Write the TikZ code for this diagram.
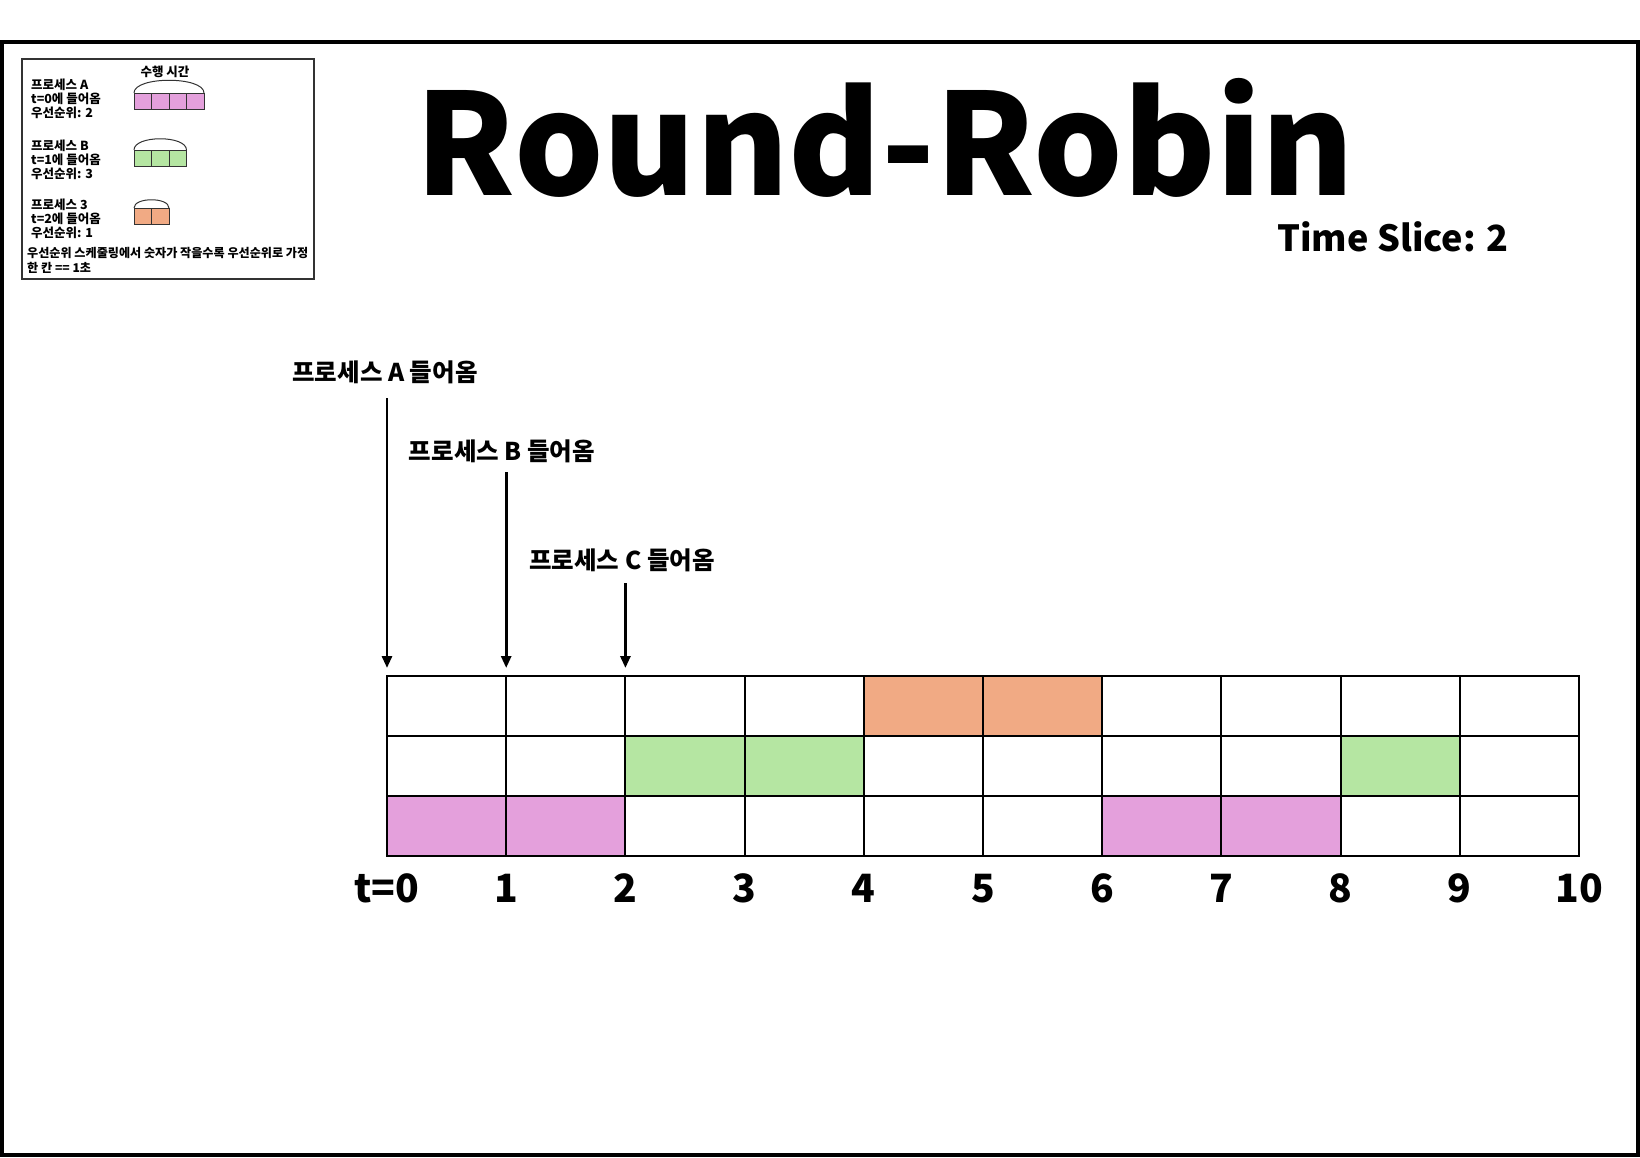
\documentclass[tikz,border=0pt]{standalone}
\usepackage{fontspec}
\setmainfont{Noto Sans CJK KR}
\usetikzlibrary{arrows.meta, positioning}

\definecolor{procA}{HTML}{E4A0DC}
\definecolor{procB}{HTML}{B5E6A2}
\definecolor{procC}{HTML}{F1AA84}

\begin{document}
\begin{tikzpicture}[
    x=1pt, y=-1pt, % one unit = one pixel of the sheet, y runs down
    font=\bfseries,
    frame/.style={draw, line width=4pt},
    legbox/.style={draw=black!80, line width=1.3pt},
    legtxt/.style={anchor=west, align=left, inner sep=0pt, font=\fontsize{12.5}{14}\selectfont\bfseries},
    note/.style={anchor=west, align=left, inner sep=0pt, font=\fontsize{12.1}{15}\selectfont\bfseries},
    legcell/.style={draw=black!80, line width=1pt},
    title/.style={anchor=base, inner sep=0pt, font=\fontsize{141}{141}\selectfont\bfseries},
    slice/.style={anchor=base, inner sep=0pt, font=\fontsize{36}{36}\selectfont\bfseries},
    arrive/.style={inner sep=0pt, font=\fontsize{24.5}{26}\selectfont\bfseries},
    tick/.style={anchor=base, inner sep=0pt, font=\fontsize{39}{40}\selectfont\bfseries},
    slot/.style={draw, line width=2pt},
    arr/.style={-{Triangle[length=12pt, width=10pt]}, line width=2.8pt, shorten >=8pt}
]
\useasboundingbox (0,0) rectangle (1640,1157);

% Sheet border
\draw[frame] (2,42) rectangle (1638,1155);

% Legend
\draw[legbox] (22,59) rectangle (314,279);
\node[legtxt, anchor=center] (runtime) at (165,72) {수행 시간};
\node[legtxt] (infoA) at (31,99) {프로세스 A\\t=0에 들어옴\\우선순위: 2};
\node[legtxt] (infoB) at (31,160) {프로세스 B\\t=1에 들어옴\\우선순위: 3};
\node[legtxt] (infoC) at (31,219) {프로세스 3\\t=2에 들어옴\\우선순위: 1};
\node[note] (rule) at (27,260.5) {우선순위 스케줄링에서 숫자가 작을수록 우선순위로 가정\\한 칸 == 1초};

% Legend bars (run time)
\foreach \k in {0,...,3} \draw[legcell, fill=procA] (134+17.5*\k,93) rectangle ++(17.5,16);
\draw[legcell] (134,93) .. controls (134,76) and (204,76) .. (204,93);
\foreach \k in {0,...,2} \draw[legcell, fill=procB] (134+17.5*\k,150) rectangle ++(17.5,16);
\draw[legcell] (134,150) .. controls (134,135) and (186.5,135) .. (186.5,150);
\foreach \k in {0,...,1} \draw[legcell, fill=procC] (134+17.5*\k,208) rectangle ++(17.5,16);
\draw[legcell] (134,208) .. controls (134,197) and (169,197) .. (169,208);

% Titles
\node[title] (title) at (885,195) {Round-Robin};
\node[slice] (slice) at (1393,251) {Time Slice: 2};

% Schedule grid
\begin{scope}[shift={(387,676)}, x=119.2pt, y=-60pt]
\fill[procC] (4,0) rectangle (6,1);
\fill[procB] (2,1) rectangle (4,2);
\fill[procB] (8,1) rectangle (9,2);
\fill[procA] (0,2) rectangle (2,3);
\fill[procA] (6,2) rectangle (8,3);
\foreach \r in {1,2} \draw[slot] (0,\r) -- (10,\r);
\foreach \c in {1,...,9} \draw[slot] (\c,0) -- (\c,3);
\draw[slot] (0,0) rectangle (10,3);
\foreach \c in {0,...,10} \coordinate (t\c) at (\c,0);
\node[tick] (tl0) at (0,3.767) {t=0};
\foreach \c in {1,...,10} \node[tick] (tl\c) at (\c,3.767) {\c};
\end{scope}

% Arrivals
\node[arrive] (inA) at (385,372) {프로세스 A 들어옴};
\node[arrive] (inB) at (502,451) {프로세스 B 들어옴};
\node[arrive] (inC) at (622,560) {프로세스 C 들어옴};
\path (t0) ++(0,-278) coordinate (sA);
\path (t1) ++(0,-204) coordinate (sB);
\path (t2) ++(0,-93) coordinate (sC);
\draw[arr] (sA) -- (t0);
\draw[arr] (sB) -- (t1);
\draw[arr] (sC) -- (t2);

\end{tikzpicture}
\end{document}
